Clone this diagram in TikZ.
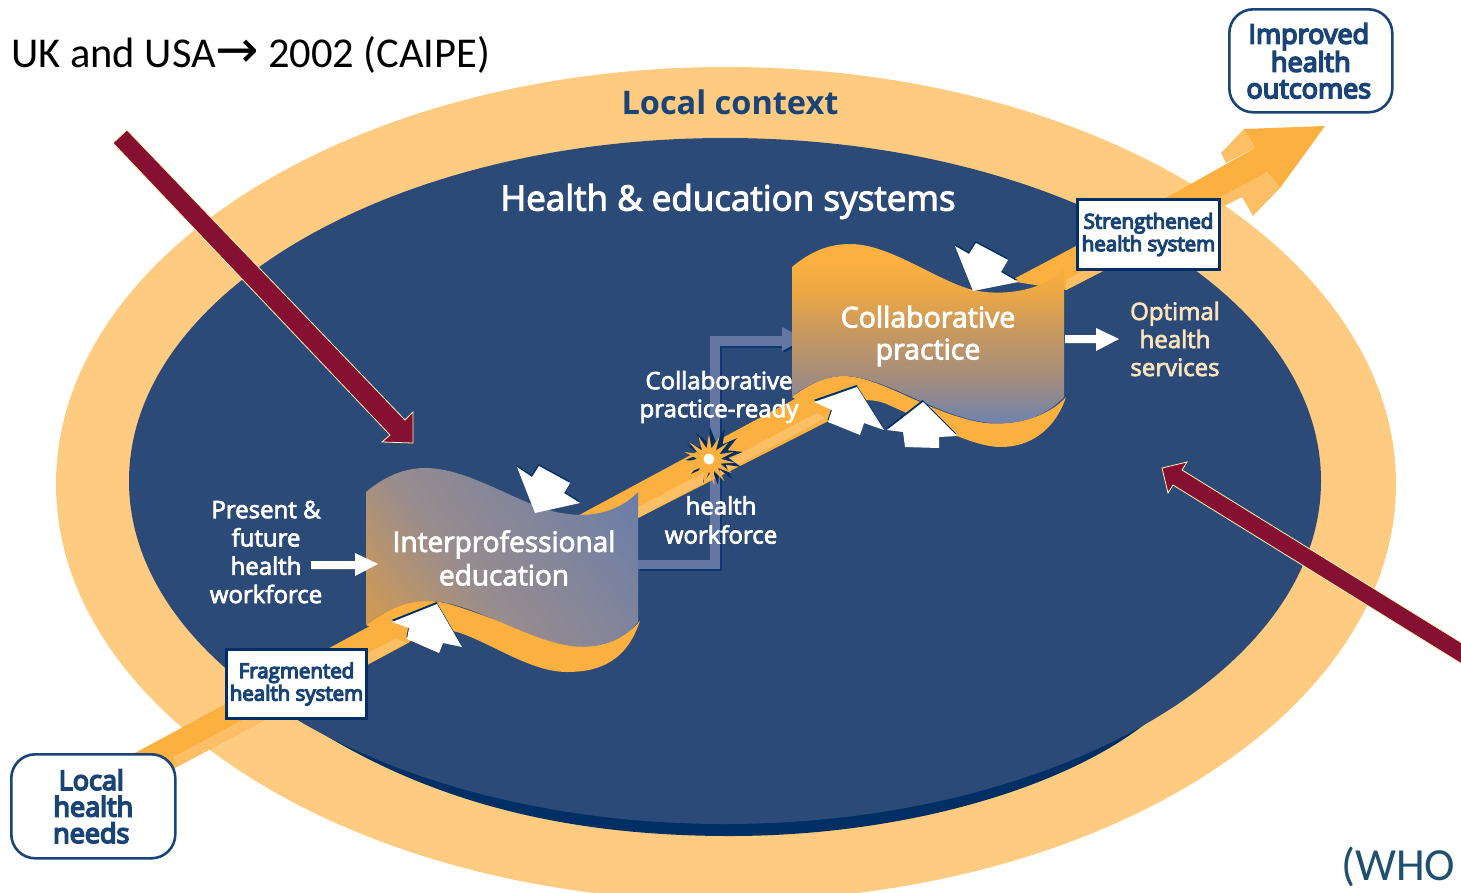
\documentclass[tikz,border=0pt]{standalone}
\usepackage{fontspec}
\setmainfont{Open Sans}
\newfontfamily\calfont{Carlito}
\newfontfamily\arrowfont{DejaVu Sans}
\newfontfamily\semifont[FakeBold=3]{Open Sans}
\newfontfamily\heavyfont[FakeBold=6]{Open Sans}
\usetikzlibrary{shapes.geometric}
\definecolor{ringc}{HTML}{FFCB80}
\definecolor{bluec}{HTML}{2C4A78}
\definecolor{darkc}{HTML}{002F66}
\definecolor{bandc}{HTML}{FBB040}
\definecolor{bandl}{HTML}{FDBF66}
\definecolor{linkc}{HTML}{6477A3}
\definecolor{maroonc}{HTML}{861032}
\definecolor{creamc}{HTML}{FFF3B0}
\definecolor{textc}{HTML}{FBE3BC}
\definecolor{whoc}{HTML}{1F5070}
\definecolor{titlec}{HTML}{1A4476}
\definecolor{ipea}{HTML}{D09A55}
\definecolor{ipeb}{HTML}{988C8E}
\definecolor{ipec}{HTML}{6C7EA8}
\definecolor{cpa}{HTML}{7484AA}
\definecolor{cpb}{HTML}{A08C80}
\definecolor{cpc}{HTML}{C9995F}
\definecolor{cpd}{HTML}{EDA844}
\pgfdeclarehorizontalshading{ipeshade}{100bp}{color(0bp)=(ipea); color(20bp)=(ipea); color(42bp)=(ipeb); color(80bp)=(ipec); color(100bp)=(ipec)}
\pgfdeclareverticalshading{cpshade}{100bp}{color(0bp)=(cpa); color(27bp)=(cpa); color(37bp)=(cpb); color(51bp)=(cpc); color(62bp)=(cpd); color(70bp)=(bandc); color(100bp)=(bandc)}
\newcommand{\whitepoly}[1]{\fill[darkc,shift={(-0.5,-2)}] #1 -- cycle; \fill[white] #1 -- cycle;}
\tikzset{
  redarrow/.style={fill=maroonc,draw=creamc,line width=0.8pt,line join=miter},
  roundbox/.style={draw=titlec,line width=2.6pt,fill=white,rounded corners=24pt,inner sep=0pt,anchor=north west,text=titlec,align=center,font=\heavyfont\fontsize{27}{26.5}\selectfont},
  squarebox/.style={draw=darkc,line width=3pt,fill=white,inner sep=0pt,anchor=north west,text=titlec,align=center,font=\heavyfont\fontsize{20.5}{22.5}\selectfont},
  whitetxt/.style={text=white,align=center,inner sep=0pt},
  creamtxt/.style={text=textc,align=center,inner sep=0pt}
}
\begin{document}
\begin{tikzpicture}[x=1pt,y=-1pt]
\useasboundingbox (0,0) rectangle (1461,892);
\clip (0,0) rectangle (1461,892);
\fill[white] (0,0) rectangle (1461,892);
% ellipses
\fill[ringc] (726,484) ellipse [x radius=670,y radius=417];
\fill[darkc] (1145,724) .. controls (1060,790) and (900,836) .. (730,836) .. controls (560,836) and (420,800) .. (295,716) -- (730,600) -- cycle;
\fill[bluec] (725,481) ellipse [x radius=596,y radius=343];
% link connector
\fill[darkc,shift={(1.5,1.5)}] (638,560) -- (710,560) -- (710,336) -- (782,336) -- (782,327) -- (805,339) -- (782,351) -- (782,346) -- (720,346) -- (720,569) -- (638,569) -- cycle;
\fill[linkc] (638,560) -- (710,560) -- (710,336) -- (782,336) -- (782,327) -- (805,339) -- (782,351) -- (782,346) -- (720,346) -- (720,569) -- (638,569) -- cycle;
% band, lower part
\fill[bandc] (135,753) -- (370,626) -- (410,642) -- (175,768) -- cycle;
\fill[bandl] (173,757) -- (400,636) -- (407,643) -- (175,768) -- cycle;
% band, middle part
\fill[bandc] (570,520) -- (830,380) -- (850,410) -- (638,518) -- (620,530) -- cycle;
\fill[bandl] (638,507) -- (826,408) -- (826,418) -- (638,518) -- cycle;
% band, upper part and head
\fill[bandc] (1010,281) -- (1076,246) -- (1171,195) -- (1255,148) -- (1244,129) -- (1325,126) -- (1280,188) -- (1267,172) -- (1226,205) -- (1101,272) -- (1066,290) -- cycle;
\fill[bandl] (1066,280) -- (1226,194) -- (1267,172) -- (1280,188) -- (1253,216) -- (1242,197) -- (1226,205) -- (1101,272) -- (1066,290) -- cycle;
\fill[bandl] (1244,129) -- (1221,153) -- (1226,163) -- (1255,148) -- cycle;
% interprofessional ribbon
\fill[bandc] (366,625) .. controls (400,600) and (420,598) .. (445,603) .. controls (480,612) and (540,640) .. (590,646) .. controls (610,645) and (628,635) .. (640,621) .. controls (630,650) and (612,672) .. (567,672) .. controls (530,672) and (490,642) .. (457,632) .. controls (440,628) and (420,636) .. (407,643) -- cycle;
\shade[shading=ipeshade,shading angle=37]
 (366,492) .. controls (385,476) and (405,468) .. (425,468) .. controls (465,468) and (510,498) .. (545,509) .. controls (580,520) and (615,516) .. (638,492) -- (638,622) .. controls (620,645) and (590,650) .. (565,645) .. controls (520,636) and (470,602) .. (430,601) .. controls (405,601) and (385,610) .. (366,625) -- cycle;
% collaborative ribbon
\fill[bandc] (792,397) .. controls (815,380) and (830,376) .. (845,376) .. controls (885,378) and (930,415) .. (985,423) .. controls (1020,426) and (1050,415) .. (1066,397) .. controls (1055,430) and (1030,447) .. (1001,447) .. controls (970,447) and (925,420) .. (884,403) .. controls (860,395) and (840,405) .. (825,418) -- cycle;
\shade[shading=cpshade]
 (792,267) .. controls (810,252) and (828,244) .. (850,244) .. controls (890,244) and (935,280) .. (973,290) .. controls (1005,297) and (1045,290) .. (1064,268) -- (1064,397) .. controls (1045,417) and (1020,425) .. (990,423) .. controls (935,417) and (890,378) .. (845,376) .. controls (830,376) and (810,382) .. (792,397) -- cycle;
% white arrows
\whitepoly{(517,467) -- (532,477) -- (539,466) -- (570,483) -- (564,493) -- (580,503) -- (535,513)}
\whitepoly{(392,622) -- (437,604) -- (462,647) -- (443,643) -- (439,653) -- (407,639) -- (409,628)}
\whitepoly{(955,246) -- (969,254) -- (976,243) -- (1008,260) -- (1001,272) -- (1018,282) -- (973,291)}
\whitepoly{(814,402) -- (857,387) -- (884,430) -- (864,423) -- (860,435) -- (828,422) -- (832,410)}
\whitepoly{(887,430) -- (923,402) -- (957,436) -- (939,437) -- (939,448) -- (905,447) -- (903,432)}
\fill[white] (311,561) -- (355,561) -- (355,553) -- (378,564) -- (355,576) -- (355,569) -- (311,569) -- cycle;
\fill[white] (1065,335) -- (1096,335) -- (1096,328) -- (1119,339) -- (1096,351) -- (1096,343) -- (1065,343) -- cycle;
% burst
\node[star,star points=12,star point ratio=2.0,fill=darkc,minimum size=58pt,inner sep=0pt,rotate=8] (burstback) at (714,456) {};
\node[star,star points=15,star point ratio=2.2,fill=bandc,minimum size=52pt,inner sep=0pt] (burst) at (709,460) {};
\node[circle,fill=white,minimum size=11pt,inner sep=0pt] (burstdot) at (709,459) {};
% maroon arrows
\draw[redarrow] (127,130) -- (405,420) -- (413,412) -- (413,443) -- (382,442) -- (390,435) -- (113,143) -- cycle;
\draw[redarrow] (1470,648) -- (1182,470) -- (1187,462) -- (1162,468) -- (1168,493) -- (1173,485) -- (1470,669) -- cycle;
% boxes
\node[roundbox,minimum width=164pt,minimum height=104pt] (local) at (10,753) {Local\hspace*{4pt}\\health\hspace*{4pt}\\needs\hspace*{4pt}};
\node[roundbox,minimum width=163pt,minimum height=103pt] (improved) at (1228,8) {Improved\hspace*{4pt}\\health\hspace*{4pt}\\outcomes\hspace*{4pt}};
\node[squarebox,minimum width=140pt,minimum height=69pt] (fragmented) at (225,648) {Fragmented\\health system};
\node[squarebox,minimum width=142pt,minimum height=70pt] (strengthened) at (1076,198) {Strengthened\\health system};
% text
\node[inner sep=0pt,anchor=base west,font=\calfont\fontsize{42.5}{44}\selectfont] (ukusa) at (11,67) {UK and USA{\arrowfont\fontsize{52}{44}\selectfont →}\hspace{-1pt} 2002 (CAIPE)};
\node[inner sep=0pt,anchor=base west,text=whoc,font=\calfont\fontsize{46}{46}\selectfont] (who) at (1341,880) {(WHO};
\node[inner sep=0pt,text=titlec,font=\bfseries\fontsize{32.5}{34}\selectfont] (localctx) at (730,102) {Local context};
\node[whitetxt,font=\semifont\fontsize{35}{37}\selectfont] (hes) at (728,201.5) {Health \& education systems};
\node[whitetxt,font=\semifont\fontsize{28}{33.5}\selectfont] (ipe) at (504,558) {Interprofessional\\education};
\node[whitetxt,font=\semifont\fontsize{28.5}{32}\selectfont] (cp) at (928,336) {Collaborative\\practice};
\node[whitetxt,font=\semifont\fontsize{24}{28.3}\selectfont] (present) at (266,552) {Present \&\\future\\health\\workforce};
\node[whitetxt,font=\semifont\fontsize{24}{28}\selectfont] (ready) at (719,397) {Collaborative\\practice-ready};
\node[whitetxt,font=\semifont\fontsize{24}{29}\selectfont] (hw) at (721,520) {health\\workforce};
\node[creamtxt,font=\semifont\fontsize{24}{28}\selectfont] (optimal) at (1175,339) {Optimal\\health\\services};
\end{tikzpicture}
\end{document}
